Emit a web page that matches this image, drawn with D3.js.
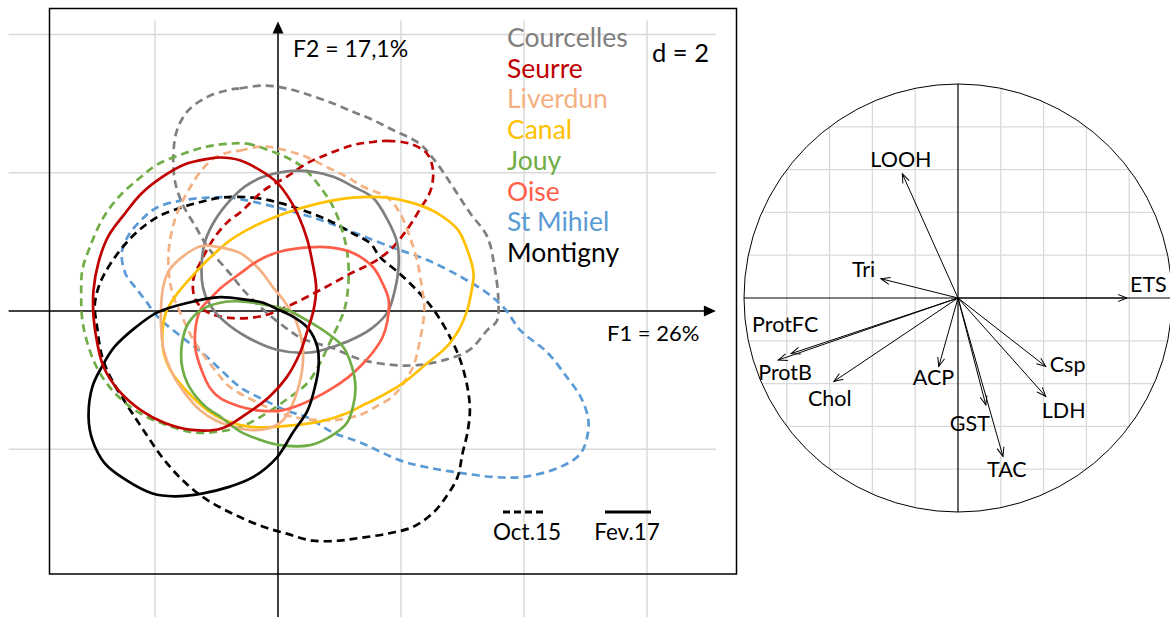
<!DOCTYPE html>
<html><head><meta charset="utf-8">
<script src="https://cdn.jsdelivr.net/npm/d3@7"></script>
<style>body{margin:0;background:#fff}svg{display:block}text{font-family:Lato,"Open Sans",sans-serif}</style>
</head><body><svg id="c" width="1170" height="617"></svg>
<script>
// ---------------- DATA ----------------
const sites = ["Courcelles","Seurre","Liverdun","Canal","Jouy","Oise","St Mihiel","Montigny"];
const siteColors = ["#7F7F7F","#C00000","#F4B183","#FFC000","#70AD47","#FF5F4A","#5B9BD5","#000000"];
const periods = ["Oct.15","Fev.17"];
const xTicks = [-1,0,1,2,3];
const yTicks = [-1,0,1,2];
const xAxisLabel = "F1 = 26%";
const yAxisLabel = "F2 = 17,1%";
const scaleNote = "d = 2";

// contour points (F1, F2) for each site and sampling period
const courcellesOct15 = [[-0.39,1.60],[-0.31,1.61],[-0.12,1.63],[0.07,1.61],[0.26,1.56],[0.45,1.50],[0.61,1.44],[0.75,1.39],[0.93,1.31],[1.15,1.21],[1.29,1.07],[1.42,0.90],[1.56,0.71],[1.70,0.54],[1.76,0.32],[1.79,0.10],[1.78,-0.07],[1.70,-0.14],[1.56,-0.28],[1.37,-0.35],[1.15,-0.39],[0.93,-0.39],[0.67,-0.35],[0.45,-0.27],[0.20,-0.20],[0.06,-0.12],[-0.12,0.01],[-0.27,0.14],[-0.39,0.27],[-0.57,0.46],[-0.67,0.61],[-0.78,0.78],[-0.84,0.95],[-0.85,1.14],[-0.82,1.31],[-0.73,1.45],[-0.57,1.55]];
const courcellesFev17 = [[0.07,1.01],[0.26,1.01],[0.45,0.97],[0.61,0.90],[0.77,0.82],[0.89,0.66],[0.97,0.49],[0.98,0.32],[0.95,0.15],[0.89,-0.01],[0.77,-0.12],[0.64,-0.19],[0.48,-0.25],[0.26,-0.30],[-0.01,-0.28],[-0.25,-0.19],[-0.43,-0.08],[-0.55,0.04],[-0.61,0.17],[-0.62,0.35],[-0.59,0.51],[-0.51,0.66],[-0.39,0.80],[-0.27,0.90],[-0.12,0.97]];
const seurreOct15 = [[0.75,1.22],[0.89,1.23],[1.07,1.21],[1.21,1.14],[1.26,1.02],[1.24,0.87],[1.15,0.73],[1.05,0.59],[0.91,0.44],[0.77,0.35],[0.61,0.28],[0.34,0.15],[0.07,0.03],[-0.15,-0.04],[-0.39,-0.05],[-0.57,-0.01],[-0.67,0.08],[-0.69,0.22],[-0.62,0.37],[-0.51,0.54],[-0.39,0.66],[-0.31,0.71],[-0.12,0.87],[0.07,0.97],[0.24,1.07],[0.42,1.14],[0.61,1.20]];
const seurreFev17 = [[-0.47,1.11],[-0.31,1.09],[-0.15,1.02],[-0.01,0.93],[0.10,0.80],[0.18,0.66],[0.24,0.51],[0.28,0.35],[0.31,0.17],[0.29,0.01],[0.24,-0.14],[0.18,-0.30],[0.07,-0.48],[-0.07,-0.62],[-0.25,-0.74],[-0.46,-0.85],[-0.70,-0.86],[-0.92,-0.81],[-1.11,-0.72],[-1.30,-0.57],[-1.42,-0.40],[-1.47,-0.23],[-1.50,-0.04],[-1.50,0.15],[-1.46,0.35],[-1.38,0.54],[-1.24,0.71],[-1.11,0.85],[-0.94,0.97],[-0.76,1.06],[-0.57,1.10]];
const liverdunOct15 = [[-0.39,1.15],[-0.31,1.16],[-0.12,1.19],[0.07,1.16],[0.24,1.11],[0.40,1.04],[0.56,0.97],[0.69,0.90],[0.89,0.82],[0.99,0.71],[1.07,0.54],[1.13,0.37],[1.17,0.17],[1.19,0.01],[1.15,-0.23],[1.10,-0.40],[1.02,-0.52],[0.93,-0.62],[0.80,-0.69],[0.67,-0.75],[0.45,-0.79],[0.22,-0.78],[0.06,-0.75],[-0.17,-0.66],[-0.39,-0.55],[-0.51,-0.43],[-0.62,-0.30],[-0.70,-0.19],[-0.78,-0.04],[-0.84,0.08],[-0.88,0.22],[-0.89,0.42],[-0.86,0.59],[-0.81,0.73],[-0.73,0.87],[-0.62,1.02],[-0.51,1.11]];
const liverdunFev17 = [[-0.62,0.47],[-0.47,0.46],[-0.31,0.42],[-0.15,0.30],[-0.04,0.17],[0.06,0.06],[0.15,-0.08],[0.20,-0.25],[0.20,-0.40],[0.16,-0.57],[0.11,-0.69],[0.04,-0.79],[-0.08,-0.85],[-0.23,-0.86],[-0.39,-0.83],[-0.51,-0.79],[-0.63,-0.72],[-0.76,-0.59],[-0.86,-0.45],[-0.93,-0.28],[-0.95,-0.12],[-0.95,0.04],[-0.93,0.19],[-0.88,0.30],[-0.78,0.39]];
const canalFev17 = [[-0.39,0.51],[-0.20,0.61],[0.07,0.71],[0.34,0.78],[0.61,0.82],[0.89,0.82],[1.10,0.78],[1.29,0.71],[1.46,0.59],[1.54,0.44],[1.59,0.27],[1.57,0.13],[1.54,0.01],[1.48,-0.12],[1.37,-0.26],[1.21,-0.38],[1.02,-0.52],[0.83,-0.62],[0.67,-0.69],[0.56,-0.74],[0.34,-0.80],[0.07,-0.83],[-0.20,-0.84],[-0.43,-0.79],[-0.57,-0.72],[-0.73,-0.59],[-0.86,-0.45],[-0.93,-0.30],[-0.94,-0.16],[-0.91,-0.01],[-0.84,0.10],[-0.73,0.22],[-0.57,0.37]];
const jouyOct15 = [[-0.39,1.21],[-0.25,1.21],[-0.07,1.16],[0.07,1.11],[0.20,1.04],[0.34,0.90],[0.45,0.75],[0.53,0.56],[0.57,0.37],[0.57,0.17],[0.54,0.01],[0.50,-0.08],[0.42,-0.23],[0.34,-0.38],[0.24,-0.52],[0.07,-0.64],[-0.15,-0.77],[-0.31,-0.84],[-0.47,-0.87],[-0.67,-0.88],[-0.92,-0.82],[-1.14,-0.73],[-1.33,-0.59],[-1.46,-0.43],[-1.54,-0.26],[-1.59,-0.07],[-1.60,0.12],[-1.59,0.30],[-1.53,0.46],[-1.43,0.66],[-1.30,0.82],[-1.14,0.95],[-0.98,1.06],[-0.76,1.14],[-0.57,1.19]];
const jouyFev17 = [[-0.31,0.07],[-0.07,0.04],[0.07,0.01],[0.24,-0.07],[0.40,-0.16],[0.53,-0.26],[0.60,-0.40],[0.63,-0.55],[0.61,-0.69],[0.56,-0.81],[0.42,-0.91],[0.26,-0.97],[0.02,-0.97],[-0.15,-0.93],[-0.31,-0.87],[-0.46,-0.77],[-0.59,-0.69],[-0.72,-0.55],[-0.78,-0.40],[-0.78,-0.23],[-0.73,-0.09],[-0.62,0.01],[-0.47,0.06]];
const oiseFev17 = [[-0.46,0.17],[-0.31,0.27],[-0.15,0.37],[0.02,0.43],[0.24,0.46],[0.42,0.46],[0.61,0.42],[0.77,0.32],[0.85,0.20],[0.90,0.08],[0.89,-0.07],[0.85,-0.19],[0.77,-0.30],[0.67,-0.40],[0.57,-0.48],[0.42,-0.57],[0.20,-0.67],[0.02,-0.72],[-0.15,-0.72],[-0.31,-0.69],[-0.47,-0.63],[-0.55,-0.56],[-0.62,-0.43],[-0.67,-0.28],[-0.67,-0.12],[-0.63,0.01],[-0.55,0.09]];
const stMihielOct15 = [[-0.39,0.82],[-0.20,0.79],[0.07,0.73],[0.34,0.66],[0.61,0.57],[0.93,0.46],[1.21,0.37],[1.48,0.25],[1.70,0.13],[1.85,0.01],[1.97,-0.14],[2.19,-0.30],[2.35,-0.48],[2.46,-0.62],[2.52,-0.77],[2.52,-0.88],[2.46,-1.03],[2.29,-1.13],[1.99,-1.20],[1.75,-1.20],[1.48,-1.17],[1.21,-1.13],[0.99,-1.08],[0.67,-0.95],[0.45,-0.88],[0.24,-0.77],[0.07,-0.72],[-0.12,-0.64],[-0.31,-0.55],[-0.46,-0.43],[-0.62,-0.30],[-0.78,-0.19],[-0.98,-0.04],[-1.08,0.08],[-1.16,0.17],[-1.24,0.27],[-1.27,0.42],[-1.22,0.54],[-1.11,0.66],[-0.98,0.75],[-0.78,0.80],[-0.57,0.82]];
const montignyOct15 = [[-0.46,0.82],[-0.20,0.82],[0.02,0.78],[0.20,0.73],[0.40,0.66],[0.61,0.56],[0.75,0.49],[0.83,0.39],[0.99,0.27],[1.15,0.13],[1.28,-0.01],[1.40,-0.19],[1.48,-0.35],[1.54,-0.55],[1.56,-0.72],[1.54,-0.88],[1.50,-1.03],[1.46,-1.20],[1.37,-1.34],[1.26,-1.46],[1.10,-1.56],[0.89,-1.61],[0.67,-1.64],[0.50,-1.66],[0.28,-1.66],[0.07,-1.61],[-0.12,-1.56],[-0.31,-1.49],[-0.47,-1.42],[-0.62,-1.34],[-0.78,-1.22],[-0.94,-1.06],[-1.08,-0.88],[-1.22,-0.69],[-1.35,-0.50],[-1.43,-0.33],[-1.47,-0.12],[-1.49,0.04],[-1.46,0.17],[-1.41,0.27],[-1.30,0.42],[-1.16,0.56],[-0.98,0.68],[-0.78,0.75],[-0.62,0.79]];
const montignyFev17 = [[-0.47,0.10],[-0.25,0.08],[-0.12,0.06],[0.00,0.01],[0.10,-0.03],[0.24,-0.12],[0.32,-0.26],[0.33,-0.40],[0.30,-0.55],[0.24,-0.72],[0.12,-0.88],[-0.01,-1.06],[-0.20,-1.20],[-0.39,-1.27],[-0.62,-1.32],[-0.84,-1.34],[-1.02,-1.32],[-1.24,-1.22],[-1.41,-1.10],[-1.51,-0.93],[-1.54,-0.77],[-1.51,-0.55],[-1.43,-0.40],[-1.33,-0.26],[-1.16,-0.12],[-0.98,-0.01],[-0.73,0.06]];

// correlation circle
const variables = ["LOOH","Tri","ETS","ProtFC","ProtB","Chol","ACP","GST","TAC","LDH","Csp"];
const varF1 = [-0.26,-0.36,0.79,-0.78,-0.84,-0.58,-0.09,0.13,0.21,0.41,0.41];
const varF2 = [0.58,0.09,0.00,-0.26,-0.29,-0.39,-0.32,-0.50,-0.74,-0.46,-0.32];
const circleGrid = [-0.8,-0.6,-0.4,-0.2,0.2,0.4,0.6,0.8];

// ---------------- BUILD ----------------
const contours = [
  {site:0, period:0, pts:courcellesOct15},
  {site:6, period:0, pts:stMihielOct15},
  {site:7, period:0, pts:montignyOct15},
  {site:2, period:0, pts:liverdunOct15},
  {site:4, period:0, pts:jouyOct15},
  {site:1, period:0, pts:seurreOct15},
  {site:0, period:1, pts:courcellesFev17},
  {site:3, period:1, pts:canalFev17},
  {site:2, period:1, pts:liverdunFev17},
  {site:5, period:1, pts:oiseFev17},
  {site:4, period:1, pts:jouyFev17},
  {site:7, period:1, pts:montignyFev17},
  {site:1, period:1, pts:seurreFev17}
];

const svg = d3.select("#c");
svg.append("rect").attr("width",1170).attr("height",617).attr("fill","#fff");

const x = d3.scaleLinear().domain([-1,3]).range([155,647]);
const y = d3.scaleLinear().domain([-1,2]).range([449.3,34.4]);
const xMin=-2.19, xMax=3.56, yMin=-2.22, yMax=2.1;
const gridColor="#D9D9D9";

const g = svg.append("g");
// grid
g.selectAll(".vg").data(xTicks.filter(d=>d!==0)).join("line")
  .attr("x1",d=>x(d)).attr("x2",d=>x(d)).attr("y1",y(yMax)).attr("y2",y(yMin))
  .attr("stroke",gridColor).attr("stroke-width",1.5);
g.selectAll(".hg").data(yTicks.filter(d=>d!==0)).join("line")
  .attr("y1",d=>y(d)).attr("y2",d=>y(d)).attr("x1",x(xMin)).attr("x2",x(xMax))
  .attr("stroke",gridColor).attr("stroke-width",1.5);
// axes
g.append("line").attr("x1",x(xMin)).attr("x2",x(xMax)-8).attr("y1",y(0)).attr("y2",y(0)).attr("stroke","#000").attr("stroke-width",1.5);
g.append("path").attr("d",`M${x(xMax)},${y(0)} L${x(xMax)-12},${y(0)-5.5} L${x(xMax)-12},${y(0)+5.5} Z`).attr("fill","#000");
g.append("line").attr("x1",x(0)).attr("x2",x(0)).attr("y1",y(yMin)).attr("y2",y(yMax)+8).attr("stroke","#000").attr("stroke-width",1.5);
g.append("path").attr("d",`M${x(0)},${y(yMax)+1} L${x(0)-5.5},${y(yMax)+13} L${x(0)+5.5},${y(yMax)+13} Z`).attr("fill","#000");

// contours
const line = d3.line().x(d=>x(d[0])).y(d=>y(d[1])).curve(d3.curveCatmullRomClosed.alpha(0.5));
g.selectAll(".ct").data(contours).join("path")
  .attr("d",d=>line(d.pts)).attr("fill","none")
  .attr("stroke",d=>siteColors[d.site]).attr("stroke-width",2.7)
  .attr("stroke-dasharray",d=>d.period===0?"8,5":null);

// texts
g.append("text").attr("x",x(0)+15).attr("y",57).attr("font-size",23).text(yAxisLabel);
g.append("text").attr("x",607).attr("y",341).attr("font-size",22).text(xAxisLabel);
g.append("text").attr("x",652).attr("y",62).attr("font-size",25.5).text(scaleNote);
g.selectAll(".lg").data(sites).join("text")
  .attr("x",507).attr("y",(d,i)=>47+i*30.7).attr("font-size",26.5)
  .attr("fill",(d,i)=>siteColors[i]).text(d=>d);
// period legend
const pl = [{x1:503,x2:546,tx:527},{x1:605,x2:651,tx:627}];
g.selectAll(".pl").data(periods).join("line")
  .attr("x1",(d,i)=>pl[i].x1).attr("x2",(d,i)=>pl[i].x2).attr("y1",512).attr("y2",512)
  .attr("stroke","#000").attr("stroke-width",3).attr("stroke-dasharray",(d,i)=>i===0?"7,4":null);
g.selectAll(".pt").data(periods).join("text")
  .attr("x",(d,i)=>pl[i].tx).attr("y",540).attr("text-anchor","middle").attr("font-size",22.5).text(d=>d);
// border
g.append("rect").attr("x",49.5).attr("y",8.5).attr("width",687).attr("height",565.5)
  .attr("fill","none").attr("stroke","#000").attr("stroke-width",1.5);

// ---------------- CORRELATION CIRCLE ----------------
const cx = d3.scaleLinear().domain([-1,1]).range([744,1172]);
const cy = d3.scaleLinear().domain([-1,1]).range([512,84]);
const defs = svg.append("defs");
defs.append("clipPath").attr("id","cc").append("circle").attr("cx",cx(0)).attr("cy",cy(0)).attr("r",cx(1)-cx(0));
defs.append("marker").attr("id","ah").attr("viewBox","-10 -6 12 12").attr("refX",0).attr("refY",0)
  .attr("markerWidth",12).attr("markerHeight",12).attr("markerUnits","userSpaceOnUse").attr("orient","auto")
  .append("path").attr("d","M-9,-3.5 L0,0 L-9,3.5").attr("fill","none").attr("stroke","#000").attr("stroke-width",1);
const cg = svg.append("g");
const gridG = cg.append("g").attr("clip-path","url(#cc)");
gridG.selectAll(".cv").data(circleGrid).join("line")
  .attr("x1",d=>cx(d)).attr("x2",d=>cx(d)).attr("y1",cy(1)).attr("y2",cy(-1))
  .attr("stroke",gridColor).attr("stroke-width",1.3);
gridG.selectAll(".ch").data(circleGrid).join("line")
  .attr("y1",d=>cy(d)).attr("y2",d=>cy(d)).attr("x1",cx(-1)).attr("x2",cx(1))
  .attr("stroke",gridColor).attr("stroke-width",1.3);
cg.append("circle").attr("cx",cx(0)).attr("cy",cy(0)).attr("r",cx(1)-cx(0)).attr("fill","none").attr("stroke","#000").attr("stroke-width",1);
cg.append("line").attr("x1",cx(-1)).attr("x2",cx(1)).attr("y1",cy(0)).attr("y2",cy(0)).attr("stroke","#000").attr("stroke-width",1.2);
cg.append("line").attr("x1",cx(0)).attr("x2",cx(0)).attr("y1",cy(1)).attr("y2",cy(-1)).attr("stroke","#000").attr("stroke-width",1.2);
cg.selectAll(".ar").data(variables).join("line")
  .attr("x1",cx(0)).attr("y1",cy(0))
  .attr("x2",(d,i)=>cx(varF1[i])).attr("y2",(d,i)=>cy(varF2[i]))
  .attr("stroke","#000").attr("stroke-width",1).attr("marker-end","url(#ah)");
const labelOffset = {LOOH:[-32,-7],Tri:[-29,-2],ETS:[3,-6],ProtFC:[-39,-22],ProtB:[-20,20],Chol:[-26,25],ACP:[-26,19],GST:[-36,26],TAC:[-16,21],LDH:[-4,22],Csp:[4,6]};
cg.selectAll(".vl").data(variables).join("text")
  .attr("x",(d,i)=>cx(varF1[i])+labelOffset[d][0]).attr("y",(d,i)=>cy(varF2[i])+labelOffset[d][1])
  .attr("font-size",21.5).text(d=>d);
</script></body></html>
